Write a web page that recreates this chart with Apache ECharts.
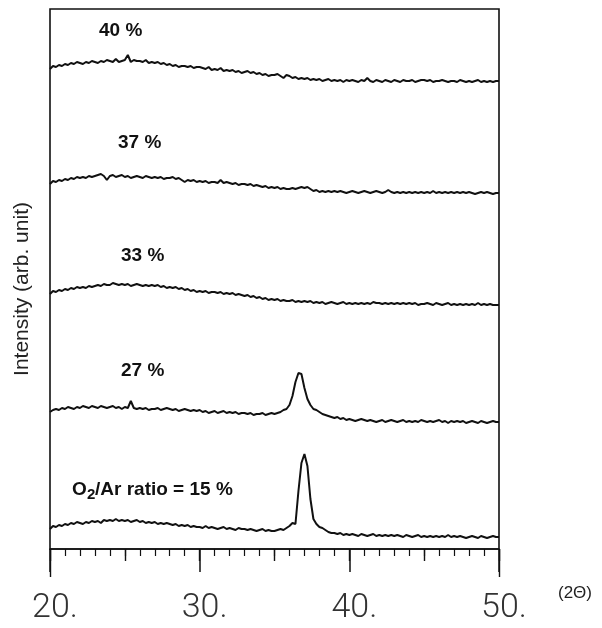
<!DOCTYPE html>
<html>
<head>
<meta charset="utf-8">
<script src="https://cdn.jsdelivr.net/npm/echarts@6/dist/echarts.min.js"></script>
<style>
  html, body { margin: 0; padding: 0; background: #fff; }
  #xrd { width: 602px; height: 628px; }
</style>
</head>
<body>
<div id="xrd"></div>
<script>
// 2theta sampled every 0.2 deg, 20..50
const angles = []
for (let i = 0; i <= 150; i++) angles.push(Math.round((20 + i * 0.2) * 10) / 10)

// O2/Ar = 40 %
const i40 = [
  480, 483, 482, 484, 483, 485, 484, 486, 485, 487,
  486, 485, 487, 486, 488, 487, 486, 488, 487, 489,
  488, 487, 490, 487, 488, 489, 494, 487, 489, 488,
  488, 487, 489, 486, 487, 486, 487, 485, 486, 484,
  485, 483, 484, 482, 483, 483, 482, 483, 481, 482,
  482, 481, 480, 482, 479, 480, 479, 481, 478, 479,
  478, 479, 477, 478, 476, 477, 478, 476, 477, 475,
  476, 474, 475, 473, 474, 474, 475, 473, 471, 474,
  473, 471, 472, 470, 471, 470, 471, 469, 470, 469,
  470, 468, 469, 470, 468, 469, 468, 469, 467, 469,
  468, 469, 468, 467, 469, 468, 471, 468, 467, 469,
  468, 467, 469, 468, 467, 469, 468, 467, 469, 468,
  468, 469, 467, 468, 469, 469, 468, 469, 467, 468,
  468, 469, 468, 467, 468, 468, 467, 469, 468, 467,
  468, 467, 468, 469, 467, 468, 467, 468, 467, 468,
  468
]
// 37 %
const i37 = [
  365, 368, 367, 369, 368, 370, 369, 371, 370, 372,
  371, 372, 371, 373, 372, 373, 374, 375, 373, 369,
  373, 374, 372, 373, 374, 372, 373, 371, 372, 373,
  372, 371, 373, 372, 371, 372, 371, 372, 370, 371,
  371, 372, 370, 371, 369, 367, 369, 368, 369, 367,
  368, 367, 368, 366, 367, 367, 366, 369, 366, 367,
  366, 365, 366, 364, 365, 365, 364, 365, 363, 364,
  363, 362, 363, 361, 362, 361, 362, 360, 361, 360,
  360, 361, 360, 361, 362, 361, 362, 360, 358, 359,
  357, 358, 357, 358, 357, 358, 357, 358, 357, 356,
  357, 358, 357, 356, 357, 358, 357, 356, 357, 358,
  357, 356, 357, 359, 357, 356, 357, 356, 357, 356,
  357, 356, 357, 356, 357, 356, 357, 356, 358, 356,
  357, 356, 357, 356, 357, 356, 357, 356, 357, 356,
  357, 356, 355, 356, 357, 356, 357, 356, 355, 356,
  356
]
// 33 %
const i33 = [
  255, 258, 257, 259, 258, 260, 259, 261, 260, 262,
  261, 262, 261, 263, 262, 263, 264, 263, 265, 264,
  264, 266, 265, 264, 265, 264, 265, 263, 264, 265,
  264, 263, 264, 263, 264, 263, 264, 262, 263, 261,
  262, 261, 262, 260, 261, 259, 260, 258, 259, 257,
  258, 257, 258, 256, 257, 257, 256, 257, 255, 256,
  255, 256, 254, 255, 254, 253, 254, 252, 253, 251,
  252, 250, 251, 249, 250, 249, 250, 248, 249, 248,
  248, 249, 247, 248, 247, 248, 247, 248, 246, 247,
  246, 247, 245, 246, 247, 246, 245, 246, 247, 245,
  246, 245, 246, 245, 246, 245, 246, 245, 247, 246,
  246, 245, 246, 245, 246, 245, 246, 245, 246, 245,
  246, 245, 246, 244, 245, 245, 246, 245, 244, 246,
  245, 244, 245, 246, 244, 245, 244, 245, 244, 245,
  244, 245, 244, 246, 244, 245, 244, 245, 244, 244,
  244
]
// 27 %
const i27 = [
  137, 139, 140, 139, 141, 140, 142, 141, 140, 142,
  141, 143, 142, 141, 143, 142, 141, 143, 142, 141,
  142, 143, 141, 142, 140, 142, 141, 148, 141, 140,
  141, 140, 141, 139, 140, 140, 141, 139, 140, 141,
  140, 139, 140, 138, 139, 140, 139, 138, 139, 138,
  139, 137, 138, 136, 137, 138, 136, 137, 138, 136,
  137, 136, 137, 135, 136, 136, 135, 136, 134, 135,
  135, 136, 134, 135, 136, 135, 136, 137, 139, 140,
  144, 153, 167, 176, 175, 161, 150, 144, 140, 139,
  137, 135, 134, 133, 132, 131, 132, 130, 131, 129,
  130, 129, 128, 129, 130, 129, 128, 129, 128, 127,
  128, 129, 127, 128, 129, 128, 127, 128, 129, 127,
  128, 127, 128, 127, 129, 128, 127, 128, 127, 128,
  129, 127, 128, 126, 128, 127, 128, 127, 128, 126,
  127, 128, 127, 126, 128, 127, 126, 127, 128, 127,
  127
]
// O2/Ar = 15 %
const i15 = [
  20, 23, 22, 24, 23, 25, 24, 26, 25, 27,
  26, 25, 27, 26, 28, 27, 28, 26, 29, 28,
  29, 28, 30, 28, 29, 28, 29, 27, 28, 29,
  27, 28, 26, 27, 26, 27, 25, 26, 25, 26,
  25, 24, 25, 23, 24, 23, 24, 22, 23, 22,
  22, 21, 23, 21, 22, 21, 20, 21, 22, 20,
  21, 20, 19, 21, 20, 20, 19, 20, 19, 18,
  19, 20, 18, 19, 18, 18, 19, 20, 19, 21,
  23, 26, 25, 58, 86, 95, 83, 50, 30, 25,
  22, 21, 19, 17, 16, 16, 15, 16, 14, 15,
  14, 15, 14, 13, 15, 14, 13, 14, 15, 13,
  14, 13, 14, 13, 14, 13, 14, 13, 12, 14,
  13, 12, 13, 14, 12, 13, 12, 13, 12, 13,
  12, 13, 12, 14, 12, 13, 12, 13, 12, 11,
  12, 13, 12, 11, 13, 12, 11, 12, 13, 12,
  12
]

const traces = [i15, i27, i33, i37, i40]
const xTicks = [20, 30, 40, 50]

const chart = echarts.init(document.getElementById('xrd'))

const lbl = function (text, x, y, size) {
  return {
    type: 'text', x: x, y: y,
    style: {
      text: text, fill: '#111',
      font: 'bold ' + (size || 19) + 'px "Liberation Sans", Arial, sans-serif',
      textAlign: 'left', textVerticalAlign: 'middle',
      align: 'left', verticalAlign: 'middle'
    }
  }
}

const tickOnly = function (interval, len) {
  return {
    type: 'value', min: 20, max: 50, interval: interval, position: 'bottom',
    axisLine: { show: false },
    axisTick: { show: true, length: len, lineStyle: { color: '#111', width: 1.4 } },
    axisLabel: { show: false },
    splitLine: { show: false }
  }
}

chart.setOption({
  animation: false,
  backgroundColor: '#fff',
  grid: {
    left: 50, right: 103, top: 9, bottom: 79,
    show: true, borderColor: '#111', borderWidth: 1.6
  },
  xAxis: [
    {
      type: 'value', min: xTicks[0], max: xTicks[3], interval: 10,
      position: 'bottom',
      axisLine: { show: true, lineStyle: { color: '#111', width: 1.6 } },
      axisTick: { show: true, length: 23, lineStyle: { color: '#111', width: 1.5 } },
      minorTick: { show: true, splitNumber: 10, length: 7, lineStyle: { color: '#111', width: 1.2 } },
      axisLabel: {
        formatter: function (v) { return v + '.' },
        fontSize: 34, fontFamily: 'Roboto', fontWeight: 300, color: '#333',
        margin: 42, padding: [0, 0, 0, 10]
      },
      splitLine: { show: false }
    },
    tickOnly(5, 12),   // medium ticks at 25, 35, 45
    tickOnly(30, 28)   // frame edges run past the axis at 20 and 50
  ],
  yAxis: {
    type: 'value', min: 0, max: 540, show: false
  },
  graphic: [
    {
      type: 'text', x: 22, y: 289, rotation: Math.PI / 2,
      style: {
        text: 'Intensity (arb. unit)', fill: '#222',
        font: '21px "Liberation Sans", Arial, sans-serif',
        textAlign: 'center', textVerticalAlign: 'middle',
        align: 'center', verticalAlign: 'middle'
      }
    },
    {
      type: 'text', x: 558, y: 593,
      style: {
        text: '(2Θ)', fill: '#222',
        font: '17px "Liberation Sans", Arial, sans-serif',
        textAlign: 'left', textVerticalAlign: 'middle',
        align: 'left', verticalAlign: 'middle'
      }
    },
    lbl('40 %', 99, 31),
    lbl('37 %', 118, 143),
    lbl('33 %', 121, 256),
    lbl('27 %', 121, 371),
    lbl('O', 72, 490),
    lbl('2', 87, 495, 15),
    lbl('/Ar ratio = 15 %', 95, 490)
  ],
  series: traces.map(function (vals) {
    return {
      type: 'line',
      xAxisIndex: 0,
      showSymbol: false,
      symbol: 'none',
      lineStyle: { color: '#111', width: 2 },
      data: angles.map(function (a, i) { return [a, vals[i]] })
    }
  })
})
</script>
</body>
</html>
